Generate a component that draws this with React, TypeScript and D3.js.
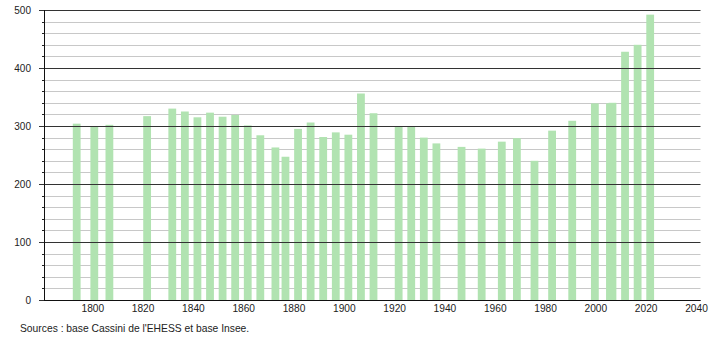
import React from "react";
import * as d3 from "d3";

const years = [1793, 1800, 1806, 1821, 1831, 1836, 1841, 1846, 1851, 1856, 1861, 1866, 1872, 1876, 1881, 1886, 1891, 1896, 1901, 1906, 1911, 1921, 1926, 1931, 1936, 1946, 1954, 1962, 1968, 1975, 1982, 1990, 1999, 2005, 2006, 2011, 2016, 2021];
const population = [304, 299, 302, 317, 330, 325, 315, 323, 316, 319, 301, 284, 263, 247, 295, 306, 281, 289, 285, 356, 322, 299, 299, 280, 270, 264, 261, 273, 279, 240, 292, 309, 339, 339, 340, 428, 440, 492];
const xTickLabels = [1800, 1820, 1840, 1860, 1880, 1900, 1920, 1940, 1960, 1980, 2000, 2020, 2040];
const yMajorTicks = [0, 100, 200, 300, 400, 500];
const sourceText = "Sources : base Cassini de l'EHESS et base Insee.";

export default function App() {
  const W = 710, H = 340;
  const left = 44, right = 700.5, top = 10, bottom = 300;
  const x = d3.scaleLinear().domain([1780, 2041]).range([left, right]);
  const y = d3.scaleLinear().domain([0, 500]).range([bottom, top]);
  const minorTicks = d3.range(0, 501, 20).filter((v) => v % 100 !== 0);
  const barW = 7.8;
  const font = "'Liberation Sans', Arial, sans-serif";
  return (
    <svg width={W} height={H} style={{ position: "absolute", left: 0, top: 0, display: "block", background: "#fff" }}>
      <rect x={0} y={0} width={W} height={H} fill="#fff" />
      {minorTicks.map((v) => (
        <g key={"m" + v}>
          <line x1={left} x2={right} y1={Math.round(y(v)) + 0.5} y2={Math.round(y(v)) + 0.5} stroke="#c8c8c8" strokeWidth={1} />
          <line x1={left - 2} x2={left} y1={Math.round(y(v)) + 0.5} y2={Math.round(y(v)) + 0.5} stroke="#222" strokeWidth={1} />
        </g>
      ))}
      {years.map((yr, i) => (
        <rect key={"b" + i} x={x(yr) - barW / 2} y={y(population[i])} width={barW} height={bottom - y(population[i])} fill="#b1e3b1" />
      ))}
      {yMajorTicks.map((v) => (
        <g key={"M" + v}>
          <line x1={left - 5} x2={right} y1={Math.round(y(v)) + 0.5} y2={Math.round(y(v)) + 0.5} stroke="#333" strokeWidth={1} />
          <text x={31} y={y(v)} dy="0.35em" textAnchor="end" fontFamily={font} fontSize={10} fill="#222">{v}</text>
        </g>
      ))}
      <line x1={left + 0.5} x2={left + 0.5} y1={top} y2={bottom + 1} stroke="#111" strokeWidth={1} />
      <line x1={left} x2={right} y1={bottom + 0.5} y2={bottom + 0.5} stroke="#111" strokeWidth={1} />
      {xTickLabels.map((t) => (
        <text key={"x" + t} x={x(t) - 1.5} y={312} textAnchor="middle" fontFamily={font} fontSize={10.2} fill="#222">{t}</text>
      ))}
      <text x={20} y={332} fontFamily={font} fontSize={10.3} fill="#222">{sourceText}</text>
    </svg>
  );
}
